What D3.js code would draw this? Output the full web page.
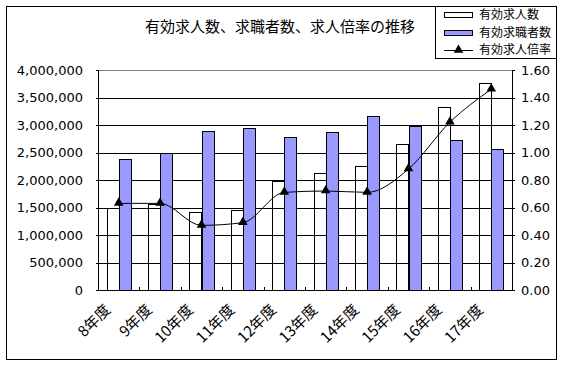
<!DOCTYPE html>
<html>
<head>
<meta charset="utf-8">
<script src="https://cdn.jsdelivr.net/npm/d3@7"></script>
<style>
  body { margin: 0; background: #fff; }
  svg { display: block; }
</style>
</head>
<body>
<div id="chart"></div>
<script>
// data
var years = ["8年度", "9年度", "10年度", "11年度", "12年度", "13年度", "14年度", "15年度", "16年度", "17年度"];
var kyujin = [1490000, 1560000, 1420000, 1455000, 1985000, 2125000, 2255000, 2650000, 3320000, 3760000];
var kyushoku = [2375000, 2485000, 2885000, 2940000, 2775000, 2878000, 3162000, 2990000, 2720000, 2560000];
var bairitsu = [0.63, 0.63, 0.47, 0.49, 0.71, 0.72, 0.71, 0.88, 1.22, 1.46];
var leftTicks = [0, 500000, 1000000, 1500000, 2000000, 2500000, 3000000, 3500000, 4000000];
var rightTicks = [0, 0.2, 0.4, 0.6, 0.8, 1.0, 1.2, 1.4, 1.6];
var seriesNames = ["有効求人数", "有効求職者数", "有効求人倍率"];
var title = "有効求人数、求職者数、求人倍率の推移";

var W = 564, H = 366;
var plot = {left: 98, right: 512, top: 70, bottom: 290};
var numFont = "'DejaVu Sans', sans-serif";
var jpFont = "'Noto Sans CJK JP', sans-serif";

var svg = d3.select("#chart").append("svg")
    .attr("width", W)
    .attr("height", H);

// outer frame
svg.append("rect")
    .attr("x", 6.5).attr("y", 6.5)
    .attr("width", 550).attr("height", 353)
    .attr("fill", "#fff")
    .attr("stroke", "#000");

var x = d3.scaleBand()
    .domain(years)
    .range([plot.left, plot.right])
    .paddingInner(0).paddingOuter(0);

var xs = d3.scaleBand()
    .domain(["kyujin", "kyushoku"])
    .range([0, x.bandwidth()])
    .paddingInner(0).paddingOuter(0.72);

var yL = d3.scaleLinear().domain([0, 4000000]).range([plot.bottom, plot.top]);
var yR = d3.scaleLinear().domain([0, 1.6]).range([plot.bottom, plot.top]);

var g = svg.append("g").attr("shape-rendering", "crispEdges");

// gridlines
g.selectAll("line.grid")
    .data(leftTicks.filter(d => d > 0))
    .enter().append("line")
    .attr("x1", plot.left).attr("x2", plot.right)
    .attr("y1", d => Math.round(yL(d)) + 0.5)
    .attr("y2", d => Math.round(yL(d)) + 0.5)
    .attr("stroke", d => d === 4000000 ? "#808080" : "#000");

// 有効求人数 - outline only, gridlines show through
g.selectAll("rect.kyujin")
    .data(kyujin)
    .enter().append("rect")
    .attr("x", (d, i) => Math.round(x(years[i]) + xs("kyujin")) + 0.5)
    .attr("y", d => Math.round(yL(d)) + 0.5)
    .attr("width", Math.round(xs.bandwidth()))
    .attr("height", d => Math.round(yL(0)) - Math.round(yL(d)))
    .attr("fill", "none")
    .attr("stroke", "#000");

// 有効求職者数
g.selectAll("rect.kyushoku")
    .data(kyushoku)
    .enter().append("rect")
    .attr("x", (d, i) => Math.round(x(years[i]) + xs("kyushoku")) + 0.5)
    .attr("y", d => Math.round(yL(d)) + 0.5)
    .attr("width", Math.round(xs.bandwidth()))
    .attr("height", d => Math.round(yL(0)) - Math.round(yL(d)))
    .attr("fill", "#9999ff")
    .attr("stroke", "#000");

// axes lines
g.append("line").attr("x1", plot.left + 0.5).attr("x2", plot.left + 0.5)
    .attr("y1", plot.top).attr("y2", plot.bottom + 1).attr("stroke", "#000");
g.append("line").attr("x1", plot.right + 0.5).attr("x2", plot.right + 0.5)
    .attr("y1", plot.top).attr("y2", plot.bottom + 1).attr("stroke", "#000");
g.append("line").attr("x1", plot.left).attr("x2", plot.right + 1)
    .attr("y1", plot.bottom + 0.5).attr("y2", plot.bottom + 0.5).attr("stroke", "#000");

// small ticks
g.selectAll("line.lt").data(leftTicks).enter().append("line")
    .attr("x1", plot.left - 2).attr("x2", plot.left)
    .attr("y1", d => Math.round(yL(d)) + 0.5).attr("y2", d => Math.round(yL(d)) + 0.5)
    .attr("stroke", "#000");
g.selectAll("line.rt").data(rightTicks).enter().append("line")
    .attr("x1", plot.right).attr("x2", plot.right + 3)
    .attr("y1", d => Math.round(yR(d)) + 0.5).attr("y2", d => Math.round(yR(d)) + 0.5)
    .attr("stroke", "#000");
g.selectAll("line.xt").data(years.slice(1)).enter().append("line")
    .attr("x1", d => Math.round(x(d)) + 0.5).attr("x2", d => Math.round(x(d)) + 0.5)
    .attr("y1", plot.bottom - 3).attr("y2", plot.bottom)
    .attr("stroke", "#000");

// 有効求人倍率 line
var line = d3.line()
    .x((d, i) => x(years[i]) + x.bandwidth() / 2)
    .y(d => yR(d))
    .curve(d3.curveMonotoneX);

svg.append("path")
    .datum(bairitsu)
    .attr("d", line)
    .attr("fill", "none")
    .attr("stroke", "#000")
    .attr("stroke-width", 1);

var tri = d3.symbol().type(d3.symbolTriangle).size(40);
svg.selectAll("path.mk")
    .data(bairitsu)
    .enter().append("path")
    .attr("transform", (d, i) => "translate(" + (x(years[i]) + x.bandwidth() / 2) + "," + (yR(d) - 0.5) + ")")
    .attr("d", tri)
    .attr("fill", "#000");

// left labels
svg.selectAll("text.yl")
    .data(leftTicks)
    .enter().append("text")
    .attr("x", 83)
    .attr("y", d => yL(d))
    .attr("dy", "0.36em")
    .attr("text-anchor", "end")
    .attr("font-family", numFont)
    .attr("font-size", 13)
    .text(d3.format(",d"));

// right labels
svg.selectAll("text.yr")
    .data(rightTicks)
    .enter().append("text")
    .attr("x", 521)
    .attr("y", d => yR(d))
    .attr("dy", "0.36em")
    .attr("font-family", numFont)
    .attr("font-size", 13)
    .text(d3.format(".2f"));

// category labels, rotated
svg.selectAll("text.xl")
    .data(years)
    .enter().append("text")
    .attr("transform", d => "translate(" + (x(d) + x.bandwidth() / 2 - 11) + ",307) rotate(-45)")
    .attr("text-anchor", "end")
    .attr("dy", "0.35em")
    .attr("font-family", jpFont)
    .attr("font-size", 15)
    .text(d => d);

// title
svg.append("text")
    .attr("x", 280)
    .attr("y", 27)
    .attr("dy", "0.35em")
    .attr("text-anchor", "middle")
    .attr("font-family", jpFont)
    .attr("font-size", 15)
    .text(title);

// legend
var lg = svg.append("g").attr("shape-rendering", "crispEdges");
lg.append("rect")
    .attr("x", 435.5).attr("y", 6.5)
    .attr("width", 121).attr("height", 52)
    .attr("fill", "#fff").attr("stroke", "#000");

var rowY = [15, 33, 50];
lg.append("rect").attr("x", 444.5).attr("y", rowY[0] - 2.5)
    .attr("width", 28).attr("height", 5)
    .attr("fill", "#fff").attr("stroke", "#000");
lg.append("rect").attr("x", 444.5).attr("y", rowY[1] - 2.5)
    .attr("width", 28).attr("height", 5)
    .attr("fill", "#9999ff").attr("stroke", "#000");
lg.append("line").attr("x1", 444).attr("x2", 473)
    .attr("y1", rowY[2] + 0.5).attr("y2", rowY[2] + 0.5)
    .attr("stroke", "#000");
svg.append("path")
    .attr("transform", "translate(458.5," + rowY[2] + ")")
    .attr("d", tri)
    .attr("fill", "#000");

svg.selectAll("text.lg")
    .data(seriesNames)
    .enter().append("text")
    .attr("x", 479)
    .attr("y", (d, i) => rowY[i])
    .attr("dy", "0.36em")
    .attr("font-family", jpFont)
    .attr("font-size", 12)
    .text(d => d);
</script>
</body>
</html>
